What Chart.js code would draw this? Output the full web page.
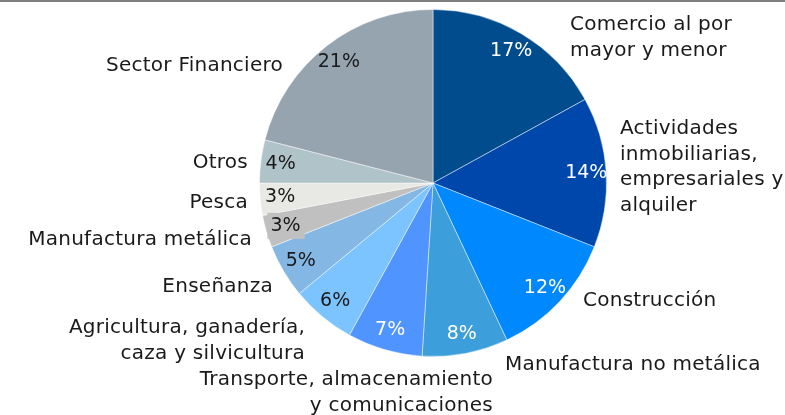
<!DOCTYPE html>
<html lang="es">
<head>
<meta charset="UTF-8">
<title>Distribución por sector</title>
<script src="https://cdn.jsdelivr.net/npm/chart.js"></script>
<style>
  html, body { margin: 0; padding: 0; background: #fff; }
  #wrap { width: 785px; height: 415px; position: relative; }
</style>
</head>
<body>
<div id="wrap"><canvas id="pie" width="785" height="415"></canvas></div>
<script>
// data
const sectors = [
  ['Comercio al por', 'mayor y menor'],
  ['Actividades', 'inmobiliarias,', 'empresariales y', 'alquiler'],
  ['Construcción'],
  ['Manufactura no metálica'],
  ['Transporte, almacenamiento', 'y comunicaciones'],
  ['Agricultura, ganadería,', 'caza y silvicultura'],
  ['Enseñanza'],
  ['Manufactura metálica'],
  ['Pesca'],
  ['Otros'],
  ['Sector Financiero']
];
const shares = [17, 14, 12, 8, 7, 6, 5, 3, 3, 4, 21];

const sliceColors = ['#004C8C', '#0047AB', '#0088FF', '#3D9EDC', '#5094FF', '#7CC4FF',
                     '#84B7E4', '#C0C0C0', '#E8E8E4', '#B0C3C8', '#96A4B0'];
const pctColors = ['#fff', '#fff', '#fff', '#fff', '#fff', '#1a1a1a', '#1a1a1a', '#1a1a1a', '#1a1a1a', '#1a1a1a', '#1a1a1a'];

// outer label anchors, relative to pie centre: [dx, dy, align]
const labelAt = [
  [137, -158, 'left'],
  [187, -54, 'left'],
  [150, 118, 'left'],
  [72, 182, 'left'],
  [60, 197, 'right'],
  [-128, 145, 'right'],
  [-160, 104, 'right'],
  [-181, 57, 'right'],
  [-185, 20, 'right'],
  [-185, -20, 'right'],
  [-150, -117, 'right']
];

const FONT = '"DejaVu Sans", sans-serif';

const labelsPlugin = {
  id: 'labels',
  beforeDraw(chart) {
    const c = chart.ctx;
    c.save();
    c.fillStyle = '#7f7f7f';
    c.fillRect(0, 0, chart.width, 2);
    c.restore();
  },
  afterDatasetsDraw(chart) {
    const c = chart.ctx;
    const meta = chart.getDatasetMeta(0);
    c.save();
    c.textBaseline = 'middle';
    meta.data.forEach((arc, i) => {
      const p = arc.getProps(['x', 'y', 'startAngle', 'endAngle', 'outerRadius'], true);
      const mid = (p.startAngle + p.endAngle) / 2;
      const r = p.outerRadius * 0.885;
      const tx = p.x + Math.cos(mid) * r;
      const ty = p.y + Math.sin(mid) * r;
      const txt = shares[i] + '%';
      c.font = '19px ' + FONT;
      c.letterSpacing = '0px';
      c.textAlign = 'center';
      if (i === 7) {
        const w = c.measureText(txt).width;
        c.fillStyle = sliceColors[i];
        c.fillRect(tx - w / 2 - 3, ty - 13, w + 7, 26);
      }
      c.fillStyle = pctColors[i];
      c.fillText(txt, tx, ty);

      const [dx, dy, al] = labelAt[i];
      const lines = sectors[i];
      const lh = 25.5;
      c.font = '20px ' + FONT;
      c.letterSpacing = '0.25px';
      c.textAlign = al;
      c.fillStyle = '#1a1a1a';
      lines.forEach((ln, k) => {
        c.fillText(ln, p.x + dx, p.y + dy + k * lh);
      });
    });
    c.restore();
  }
};

new Chart(document.getElementById('pie'), {
  type: 'pie',
  data: {
    labels: sectors.map(s => s.join(' ')),
    datasets: [{
      data: shares,
      backgroundColor: sliceColors,
      borderColor: 'rgba(255,255,255,0.45)',
      borderWidth: 1
    }]
  },
  options: {
    responsive: false,
    animation: false,
    layout: { padding: { top: 9, bottom: 58, left: 200, right: 119 } },
    plugins: {
      legend: { display: false },
      tooltip: { enabled: false }
    }
  },
  plugins: [labelsPlugin]
});
</script>
</body>
</html>
